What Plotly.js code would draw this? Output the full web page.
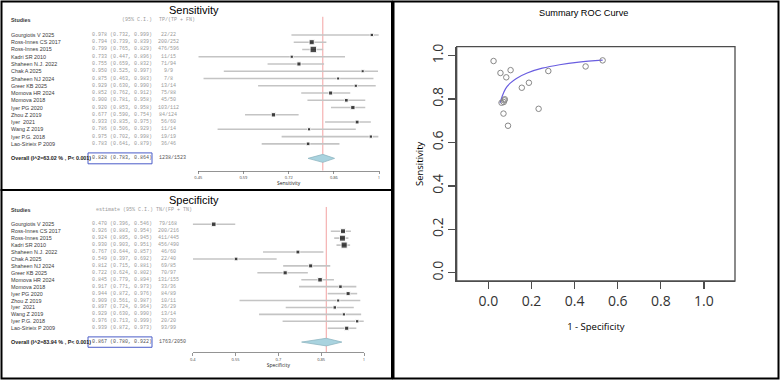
<!DOCTYPE html>
<html>
<head>
<meta charset="utf-8">
<script src="https://cdn.plot.ly/plotly-3.0.1.min.js"></script>
<style>html,body{margin:0;padding:0;background:#fff}#chart{width:780px;height:380px}</style>
</head>
<body>
<div id="chart"></div>
<script>
// ---------- data ----------
const studies = ["Gourgiotis V 2025","Ross-Innes CS 2017","Ross-Innes 2015","Kadri SR 2010","Shaheen N.J. 2022","Chak A 2025","Shaheen NJ 2024","Greer KB 2025","Momova HR 2024","Momova 2018","Iyer PG 2020","Zhou Z 2019","Iyer  2021","Wang Z 2019","Iyer P.G. 2018","Lao-Sirieix P 2009"];

const sensEst = [0.978,0.794,0.799,0.733,0.755,0.950,0.875,0.929,0.852,0.900,0.920,0.677,0.933,0.786,0.975,0.783];
const sensLo  = [0.732,0.739,0.765,0.447,0.659,0.525,0.463,0.630,0.762,0.781,0.853,0.590,0.835,0.506,0.702,0.641];
const sensHi  = [0.999,0.839,0.829,0.896,0.832,0.997,0.983,0.990,0.912,0.958,0.958,0.754,0.975,0.929,0.998,0.879];
const sensTP  = [22,200,476,11,71,9,7,13,75,45,103,84,56,11,19,36];
const sensN   = [22,252,596,15,94,9,8,14,88,50,112,124,60,14,19,46];
const sensOverall = {est:0.828, lo:0.783, hi:0.864, label:"Overall (I^2=63.02 % , P< 0.001)", count:"1238/1523"};
const sensTickVals = [0.447,0.585,0.724,0.862,1.0];
const sensTickText = ["0.45","0.59","0.72","0.86","1"];

const specEst = [0.470,0.926,0.924,0.930,0.767,0.549,0.812,0.722,0.845,0.917,0.944,0.909,0.897,0.929,0.976,0.939];
const specLo  = [0.396,0.883,0.895,0.903,0.644,0.397,0.715,0.624,0.779,0.771,0.872,0.561,0.724,0.630,0.713,0.872];
const specHi  = [0.546,0.954,0.945,0.951,0.857,0.692,0.881,0.802,0.894,0.973,0.976,0.987,0.964,0.990,0.999,0.973];
const specTN  = [79,200,411,456,46,22,69,70,131,33,84,10,26,13,20,93];
const specN   = [168,216,445,490,60,40,85,97,155,36,89,11,29,14,20,99];
const specOverall = {est:0.867, lo:0.780, hi:0.922, label:"Overall (I^2=83.94 % , P< 0.001)", count:"1763/2050"};
const specTickVals = [0.396,0.547,0.698,0.849,1.0];
const specTickText = ["0.4","0.55","0.7","0.85","1"];

// SROC curve (1 - specificity, sensitivity)
const srocX = [0.054,0.065,0.080,0.100,0.130,0.180,0.250,0.330,0.420,0.530];
const srocY = [0.781,0.815,0.848,0.872,0.895,0.920,0.942,0.958,0.970,0.979];

const rocTicks = [0,0.2,0.4,0.6,0.8,1.0];

// ---------- helpers ----------
const W = 780, H = 380;
const px = v => v / W;
const py = v => 1 - v / H;
const rows = studies.map((s,i) => i + 1);
const overallRow = 18;

const traces = [], annotations = [], shapes = [];
const SANS = 'Liberation Sans, Arial, sans-serif';
const MONO = 'Liberation Mono, DejaVu Sans Mono, monospace';

function forest(est, lo, hi, num, den, ov, xa, ya, tickVals, tickText, axisTitle, domX, domY, yRange, cols) {
  const cx = [], cy = [];
  est.forEach((e,i) => { cx.push(lo[i], hi[i], null); cy.push(rows[i], rows[i], null); });
  traces.push({type:'scatter', mode:'lines', x:cx, y:cy, xaxis:xa, yaxis:ya,
    line:{color:'#c4c4c4', width:1.6}, showlegend:false, cliponaxis:false});
  traces.push({type:'scatter', mode:'markers', x:est, y:rows, xaxis:xa, yaxis:ya,
    marker:{symbol:'square', color:'#000', size:den.map(n => 2.6 + 0.16*Math.sqrt(n))},
    showlegend:false, cliponaxis:false});
  const d = 0.55;
  traces.push({type:'scatter', mode:'lines', fill:'toself', fillcolor:'#a9d3df',
    x:[ov.lo, ov.est, ov.hi, ov.est, ov.lo], y:[overallRow, overallRow-d, overallRow, overallRow+d, overallRow],
    xaxis:xa, yaxis:ya, line:{color:'#8fb6c2', width:0.8}, showlegend:false, cliponaxis:false});
  shapes.push({type:'line', xref:xa, yref:ya, x0:ov.est, x1:ov.est, y0:-1.5, y1:yRange[0],
    line:{color:'#f08a8a', width:0.8}, layer:'below'});
  const nameFont = {family:SANS, size:5.4, color:'#3a3a3a'};
  const monoFont = {family:MONO, size:5, color:'#9a9a9a'};
  studies.forEach((s,i) => {
    annotations.push({xref:'paper', yref:ya, x:px(9), y:rows[i], text:s, showarrow:false, xanchor:'left', yanchor:'middle', font:nameFont});
    annotations.push({xref:'paper', yref:ya, x:px(90), y:rows[i],
      text:est[i].toFixed(3)+' ('+lo[i].toFixed(3)+', '+hi[i].toFixed(3)+')', showarrow:false, xanchor:'left', yanchor:'middle', font:monoFont});
    annotations.push({xref:'paper', yref:ya, x:px(168), y:rows[i], text:num[i]+'/'+den[i], showarrow:false, xanchor:'center', yanchor:'middle', font:monoFont});
  });
  annotations.push({xref:'paper', yref:ya, x:px(9), y:-1, text:'<b>Studies</b>', showarrow:false, xanchor:'left', yanchor:'middle', font:nameFont});
  annotations.push({xref:'paper', yref:ya, x:px(cols.h1x), y:-1, text:cols.h1, showarrow:false, xanchor:'left', yanchor:'middle', font:monoFont});
  annotations.push({xref:'paper', yref:ya, x:px(cols.h2x), y:-1, text:cols.h2, showarrow:false, xanchor:'left', yanchor:'middle', font:monoFont});
  annotations.push({xref:'paper', yref:ya, x:px(9), y:overallRow, text:'<b>'+ov.label+'</b>', showarrow:false, xanchor:'left', yanchor:'middle',
    font:{family:SANS, size:5.4, color:'#222'}});
  annotations.push({xref:'paper', yref:ya, x:px(90), y:overallRow,
    text:ov.est.toFixed(3)+' ('+ov.lo.toFixed(3)+', '+ov.hi.toFixed(3)+')', showarrow:false, xanchor:'left', yanchor:'middle',
    font:{family:MONO, size:5, color:'#555'}});
  annotations.push({xref:'paper', yref:ya, x:px(157), y:overallRow, text:ov.count, showarrow:false, xanchor:'left', yanchor:'middle',
    font:{family:MONO, size:5, color:'#555'}});
  shapes.push({type:'rect', xref:'paper', yref:ya, x0:px(88), x1:px(152), y0:overallRow-0.75, y1:overallRow+0.75,
    line:{color:'#4a5cc8', width:1}});
  return {
    x: {domain:domX, range:[tickVals[0], tickVals[tickVals.length-1]], anchor:ya, showgrid:false, zeroline:false,
        showline:true, linecolor:'#666', linewidth:0.7, ticks:'outside', ticklen:3, tickwidth:0.7, tickcolor:'#666',
        tickvals:tickVals, ticktext:tickText, tickfont:{size:4, color:'#444'},
        title:{text:axisTitle, font:{size:5, color:'#222'}, standoff:2}},
    y: {domain:domY, range:yRange, anchor:xa, visible:false, showgrid:false, zeroline:false}
  };
}

const fs = forest(sensEst, sensLo, sensHi, sensTP, sensN, sensOverall, 'x', 'y', sensTickVals, sensTickText, 'Sensitivity',
  [px(198.3), px(379)], [py(170.7), py(5.9)], [19.7, -3],
  {h1:'(95% C.I.)', h1x:120, h2:'TP/(TP + FN)', h2x:157});
const fp = forest(specEst, specLo, specHi, specTN, specN, specOverall, 'x2', 'y2', specTickVals, specTickText, 'Specificity',
  [px(192.7), px(364)], [py(352), py(196.6)], [19.43, -3],
  {h1:'estimate (95% C.I.)', h1x:94, h2:'TN/(FP + TN)', h2x:154});

// panel titles
annotations.push({xref:'paper', yref:'paper', x:px(194), y:py(10), text:'Sensitivity', showarrow:false, xanchor:'center', yanchor:'middle',
  font:{family:SANS, size:11, color:'#000'}});
annotations.push({xref:'paper', yref:'paper', x:px(194), y:py(200), text:'Specificity', showarrow:false, xanchor:'center', yanchor:'middle',
  font:{family:SANS, size:11, color:'#000'}});
annotations.push({xref:'paper', yref:'paper', x:px(583), y:py(13), text:'Summary ROC Curve', showarrow:false, xanchor:'center', yanchor:'middle',
  font:{family:SANS, size:9.2, color:'#000'}});

// ROC
traces.push({type:'scatter', mode:'lines', x:srocX, y:srocY, xaxis:'x3', yaxis:'y3', line:{color:'#6a5ee0', width:1.2, shape:'spline'}, showlegend:false});
traces.push({type:'scatter', mode:'markers', x:specEst.map(v => 1 - v), y:sensEst, xaxis:'x3', yaxis:'y3',
  marker:{symbol:'circle-open', size:5.5, color:'#888', line:{width:1, color:'#888'}}, showlegend:false});

// ROC plot frame (R-style box around the plot region)
shapes.push({type:'rect', xref:'paper', yref:'paper', x0:px(456.7), x1:px(735), y0:py(281), y1:py(46.7),
  line:{color:'#4d4d4d', width:1.3}, fillcolor:'rgba(0,0,0,0)', layer:'above'});

// panel borders
shapes.push({type:'rect', xref:'paper', yref:'paper', x0:px(1.5), x1:px(392), y0:py(1.5), y1:py(190), line:{color:'#000', width:2}});
shapes.push({type:'rect', xref:'paper', yref:'paper', x0:px(1.5), x1:px(392), y0:py(190), y1:py(378.5), line:{color:'#000', width:2}});
shapes.push({type:'rect', xref:'paper', yref:'paper', x0:px(393.5), x1:px(778.5), y0:py(1.5), y1:py(378.5), line:{color:'#000', width:2}});

const layout = {
  width:W, height:H, margin:{l:0,r:0,t:0,b:0}, paper_bgcolor:'#fff', plot_bgcolor:'rgba(0,0,0,0)',
  showlegend:false,
  xaxis: fs.x, yaxis: fs.y,
  xaxis2: fp.x, yaxis2: fp.y,
  xaxis3: {domain:[px(456.7), px(735)], range:[-0.147, 1.144], anchor:'y3', showgrid:false, zeroline:false,
    showline:true, linecolor:'#4d4d4d', linewidth:1.3, ticks:'outside', ticklen:7, tickwidth:1.3, tickcolor:'#4d4d4d', ticklabeloverflow:'allow',
    tickvals:rocTicks, tickformat:'.1f', tickfont:{size:14, color:'#333'},
    title:{text:'1 - Specificity', font:{size:9.5, color:'#000'}, standoff:14}},
  yaxis3: {domain:[py(281), py(46.7)], range:[-0.038, 1.041], anchor:'x3', showgrid:false, zeroline:false,
    showline:true, linecolor:'#4d4d4d', linewidth:1.3, ticks:'outside', ticklen:7, tickwidth:1.3, tickcolor:'#4d4d4d', ticklabeloverflow:'allow',
    tickvals:rocTicks, tickformat:'.1f', tickangle:-90, tickfont:{size:14, color:'#333'},
    title:{text:'Sensitivity', font:{size:9.5, color:'#000'}}},
  annotations, shapes
};

Plotly.newPlot('chart', traces, layout, {displayModeBar:false, staticPlot:true});
</script>
</body>
</html>
